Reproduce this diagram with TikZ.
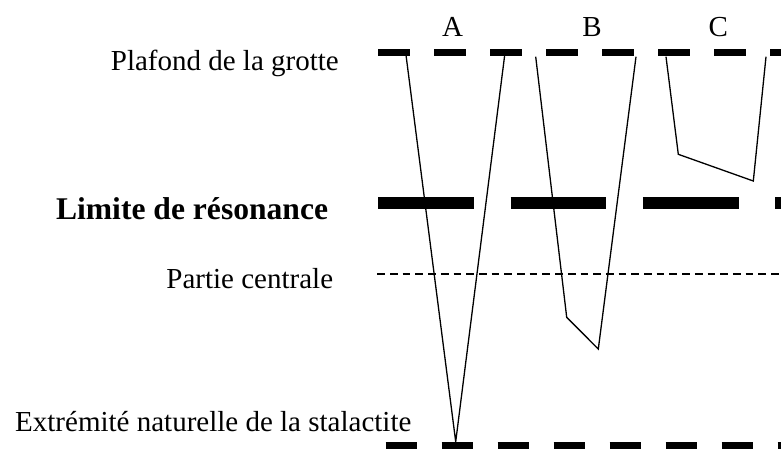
\documentclass[tikz,border=0pt]{standalone}
\usepackage{fontspec}
\setmainfont{Liberation Serif}
\usepackage{tikz}
\usetikzlibrary{positioning}

\begin{document}
\begin{tikzpicture}[x=1pt, y=-1pt,
    lbl/.style={font=\fontsize{29}{34}\selectfont, inner sep=0pt},
    boldlbl/.style={font=\fontsize{31.6}{36}\selectfont\bfseries, inner sep=0pt},
    thinlevel/.style={line width=7pt, dash pattern=on 31.6pt off 24.4pt},
    thicklevel/.style={line width=12pt, dash pattern=on 95.7pt off 36.6pt},
    midlevel/.style={line width=1.3pt, dash pattern=on 7.7pt off 5pt},
    outline/.style={line width=1.3pt, line join=miter}
]
\useasboundingbox (0,0) rectangle (781,448);
\clip (0,0) rectangle (781,448);

% levels
\node[lbl, anchor=base east] (plafond) at (339,70.7) {Plafond de la grotte};
\node[boldlbl, anchor=base east] (limite) at (328.3,219.3) {Limite de résonance};
\node[lbl, anchor=base east] (partie) at (333.3,288.3) {Partie centrale};
\node[lbl, anchor=base west] (extremite) at (15,431.7) {Extrémité naturelle de la stalactite};

\draw[thinlevel] (378.3,52.7) -- (781,52.7);
\draw[thicklevel] (378.3,203) -- (781,203);
\draw[midlevel] (377.3,274) -- (781,274);
\draw[thinlevel] (385.7,445.8) -- (781,445.8);

% stalactites
\node[lbl, anchor=base] (la) at (452.5,36.7) {A};
\node[lbl, anchor=base] (lb) at (592,36.7) {B};
\node[lbl, anchor=base] (lc) at (718.3,36.7) {C};

\draw[outline] (405.7,52.7) -- (455.7,441.7) -- (505,52.7);
\draw[outline] (535.7,56.7) -- (566.7,317.3) -- (598.3,349) -- (636,56.7);
\draw[outline] (666,56.7) -- (678.3,154.3) -- (753.3,181) -- (766,56.7);
\end{tikzpicture}
\end{document}
